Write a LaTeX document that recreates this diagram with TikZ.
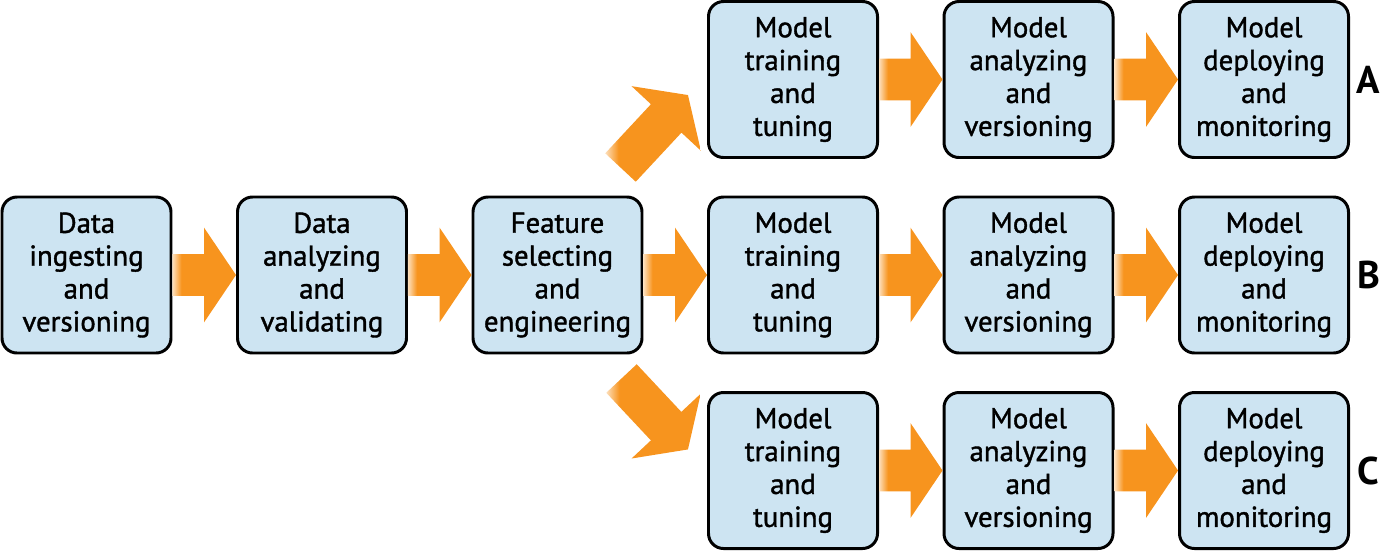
\documentclass[tikz,border=0pt]{standalone}
\usepackage{fontspec}
\setmainfont{PT Sans}[UprightFeatures={FakeBold=1.3}]
\usepackage{tikz}
\usetikzlibrary{calc}
\usetikzlibrary{shapes.arrows}
\definecolor{boxblue}{HTML}{CDE4F2}
\definecolor{arroworange}{HTML}{F7941E}
\colorlet{fadeorange}{arroworange!30}
\pgfdeclarehorizontalshading{arrowfade}{100bp}{color(0bp)=(fadeorange); color(25bp)=(fadeorange); color(32bp)=(arroworange); color(100bp)=(arroworange)}

\begin{document}
\begin{tikzpicture}[auto,node distance=4.71cm,
		stage/.style={rectangle,rounded corners=0.3cm,draw=black,line width=1.7pt,
			fill=boxblue,minimum width=3.38cm,minimum height=3.12cm,align=center,
			inner sep=0pt,font=\fontsize{16.4}{18.7}\selectfont},
		tag/.style={font=\fontsize{22}{24}\selectfont\bfseries},
		fatarrow/.style={single arrow,shade,shading=arrowfade,draw=none,
			inner xsep=0pt,inner ysep=0.41cm,outer sep=0pt,minimum width=1.88cm,
			single arrow head extend=0.53cm,single arrow tip angle=112},
		fat/.style={to path={let \p1=(\tikztostart), \p2=(\tikztotarget),
				\n1={atan2(\y2-\y1,\x2-\x1)}, \n2={veclen(\x2-\x1,\y2-\y1)} in
				node[fatarrow,rotate=\n1,minimum height=\n2,anchor=tail] at (\p1) {}}}]
	
	\useasboundingbox (0,0) rectangle (27.64,-11.02);
	
	\node[stage] (data) at (1.73,-5.5) {Data\\ingesting\\and\\versioning};
	\node[stage] (analyze) [right of=data] {Data\\analyzing\\and\\validating};
	\node[stage] (feat) [right of=analyze] {Feature\\selecting\\and\\engineering};
	\node[stage] (trainB) [right of=feat] {Model\\training\\and\\tuning};
	\node[stage] (checkB) [right of=trainB] {Model\\analyzing\\and\\versioning};
	\node[stage] (deployB) [right of=checkB] {Model\\deploying\\and\\monitoring};
	\node[stage] (trainA) [node distance=3.91cm, above of=trainB] {Model\\training\\and\\tuning};
	\node[stage] (checkA) [right of=trainA] {Model\\analyzing\\and\\versioning};
	\node[stage] (deployA) [right of=checkA] {Model\\deploying\\and\\monitoring};
	\node[stage] (trainC) [node distance=3.91cm, below of=trainB] {Model\\training\\and\\tuning};
	\node[stage] (checkC) [right of=trainC] {Model\\analyzing\\and\\versioning};
	\node[stage] (deployC) [right of=checkC] {Model\\deploying\\and\\monitoring};
	\node[tag] (labA) [node distance=2.09cm, right of=deployA] {A};
	\node[tag] (labB) [node distance=2.09cm, right of=deployB] {B};
	\node[tag] (labC) [node distance=2.09cm, right of=deployC] {C};
	
	% ends of the two slanted arrows
	\coordinate (tailA) at ([shift={(-0.46,0.56)}]feat.north east);
	\coordinate (tipA) at ([shift={(-0.38,-0.31)}]trainA.west);
	\coordinate (tailC) at ([shift={(-0.44,-0.48)}]feat.south east);
	\coordinate (tipC) at ([shift={(-0.38,0.42)}]trainC.west);
	
	\path[fat]
	(data.east) to (analyze.west)
	(analyze.east) to (feat.west)
	(feat.east) to (trainB.west)
	(tailA) to (tipA)
	(tailC) to (tipC)
	(trainA.east) to (checkA.west)
	(checkA.east) to (deployA.west)
	(trainB.east) to (checkB.west)
	(checkB.east) to (deployB.west)
	(trainC.east) to (checkC.west)
	(checkC.east) to (deployC.west);
\end{tikzpicture}
\end{document}
